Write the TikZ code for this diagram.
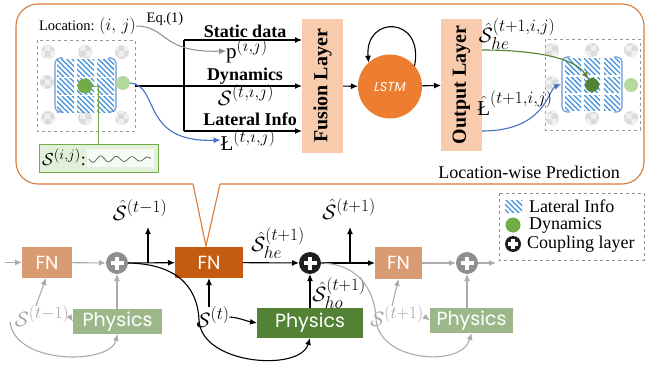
\documentclass[tikz,border=0pt]{standalone}
\usepackage{fontspec}
\setmainfont{Liberation Serif}
\newfontfamily\hand{Poppins}
\usetikzlibrary{arrows.meta,patterns,patterns.meta,calc}
\DeclareMathSizes{21}{21}{16}{12}
\DeclareMathSizes{18}{18}{14}{10}
\DeclareMathSizes{17}{17}{13}{10}
\definecolor{cbord}{HTML}{D97B37}
\definecolor{fusc}{HTML}{F8CBAD}
\definecolor{lstmc}{HTML}{ED7D31}
\definecolor{fnmain}{HTML}{C55A11}
\definecolor{fnfade}{HTML}{D99B72}
\definecolor{phmain}{HTML}{548235}
\definecolor{phfade}{HTML}{9CB88A}
\definecolor{gdyn}{HTML}{70AD47}
\definecolor{gdark}{HTML}{548235}
\definecolor{glight}{HTML}{B5D99C}
\definecolor{gbox}{HTML}{E2F0D9}
\definecolor{bluec}{HTML}{4472C4}
\definecolor{hatchc}{HTML}{3D8FDB}
\definecolor{brackc}{HTML}{6A96D6}
\definecolor{garrc}{HTML}{ABABAB}
\definecolor{cfade}{HTML}{8E8E8E}
\newcommand{\cplus}[2]{%
  \fill[white] ($(path picture bounding box.center)+(-#1,-#2)$) rectangle ($(path picture bounding box.center)+(#1,#2)$);
  \fill[white] ($(path picture bounding box.center)+(-#2,-#1)$) rectangle ($(path picture bounding box.center)+(#2,#1)$);}
\begin{document}
\begin{tikzpicture}[x=1pt,y=-1pt,
  every node/.style={inner sep=0pt, outer sep=0pt},
  lab/.style={font=\fontsize{21}{21}\selectfont},
  blab/.style={font=\fontsize{18}{18}\selectfont\bfseries},
  arr/.style={-{Latex[length=7pt,width=6pt]}, line width=1.1pt},
  garr/.style={arr, draw=garrc},
  gdot/.style={circle, minimum size=14pt, fill=black!14, postaction={pattern=checkerboard, pattern color=black!6}},
  hatch/.style={pattern={Lines[angle=-45,distance=3.7pt,line width=1.25pt]}, pattern color=hatchc},
  layer/.style={fill=fusc, minimum width=41pt, font=\fontsize{20}{20}\selectfont\bfseries},
  blk/.style={fill=#1, text=white, font=\hand\fontsize{19}{19}\selectfont},
  coup/.style={circle, fill=#1, minimum size=22pt, path picture={\cplus{6.5pt}{2.3pt}}},
  coups/.style={circle, fill=#1, minimum size=16pt, path picture={\cplus{4.8pt}{1.8pt}}},
  brk/.style={draw=brackc, line width=1.1pt, rounded corners=5pt}
]
\useasboundingbox (0,0) rectangle (658,369);

% ---------------- callout frame ----------------
\draw[cbord, line width=1.1pt, rounded corners=22pt] (193,184) -- (16,184) -- (16,4) -- (644,4) -- (644,184) -- (220,184);
\draw[cbord, line width=1.1pt] (193,184) -- (206,246) -- (220,184);

% ---------------- left grid ----------------
\draw[black!40, dashed, line width=0.9pt] (37,40) rectangle (135,131);
\foreach \p in {(48,52),(85,52),(122,52),(47,82),(48,118),(85,118),(122,118)}
  \node[gdot] at \p {};
\fill[white] (55,58) rectangle (116,112);
\foreach \x in {57,77,97} \foreach \y in {60,78,96}
  \fill[hatch] (\x,\y) rectangle ++(17,16);
\draw[brk] (63,58) -- (55,58) -- (55,112) -- (63,112);
\draw[brk] (108,58) -- (116,58) -- (116,112) -- (108,112);
\node[circle, minimum size=14pt, fill=glight] (lgl) at (123,83) {};

\node[font=\fontsize{14.5}{14.5}\selectfont, anchor=west] (loc) at (39,26) {Location: {\fontsize{17}{17}\selectfont$(i,\,j)$}};
\node[font=\fontsize{14.5}{14.5}\selectfont] (eq) at (165,19) {Eq.(1)};

% S^(i,j) box
\node[draw=gdyn, fill=gbox, line width=1pt, minimum width=119pt, minimum height=28pt] (sbox) at (98.5,158) {};
\fill[white, opacity=0.75] (87,149) rectangle (154,167);
\node[font=\fontsize{18}{18}\selectfont] (slab) at (64,157) {$\mathcal{S}^{(i,j)}$:};
\draw[black!60, line width=0.8pt] plot[domain=0:62, samples=120, smooth] ({89+\x},{159+3.3*sin(\x*23)*(1-\x/140)});
\coordinate (gdc) at (85,86);
\draw[gdyn, line width=1pt] (gdc) -| (sbox.north);
\node[circle, minimum size=15pt, fill=gdyn] (lgd) at (gdc) {};

% ---------------- input connectors ----------------
\node[layer, minimum height=134pt] (fus) at (322.5,86) {\rotatebox{90}{Fusion Layer}};
\node[layer, minimum height=132pt] (outl) at (461.5,85) {\rotatebox{90}{Output Layer}};
\node[circle, fill=lstmc, minimum size=64pt, text=white, font=\hand\itshape\fontsize{13}{13}\selectfont] (lstm) at (390,86.5) {LSTM};

\coordinate (gr) at (135,86);
\coordinate (jt) at (184,40);
\coordinate (jb) at (184,131);
\draw[line width=1.1pt] (jt) -- (jb);
\draw[arr] (jt) -- (jt -| fus.west);
\draw[arr] (gr) -- (gr -| fus.west);
\draw[arr] (jb) -- (jb -| fus.west);

\node[blab] at (245,31) {Static data};
\node[lab] (pij) at (247,51) {$\mathrm{p}^{(i,j)}$};
\node[blab] at (245,76) {Dynamics};
\node[lab] at (246,95) {$\mathcal{S}^{(t,i,j)}$};
\node[blab] at (250,119) {Lateral Info};
\node[lab] (lij) at (248,140) {\mbox{\L}$^{(t,i,j)}$};

\draw[arr, draw=black!45, line width=1pt] (loc.east) .. controls (168,26) and (160,53) .. (pij.west);
\draw[arr, draw=bluec, line width=1.1pt] (lgl.east) .. controls (160,85) and (140,143) .. (lij.west);

\draw[arr] (fus) -- (lstm);
\draw[arr] (lstm) -- (outl);
\draw[arr] (lstm.40) .. controls +(10,-50) and +(-4,-48) .. (lstm.132);

% ---------------- right grid ----------------
\draw[black!40, dashed, line width=0.9pt] (545,39) rectangle (640,130);
\foreach \p in {(552,50),(592,50),(631,50),(552,83),(552,118),(592,118),(631,118)}
  \node[gdot] at \p {};
\fill[white] (562,57) rectangle (622,112);
\foreach \x in {565,584,604} \foreach \y in {59,77,95}
  \fill[hatch] (\x,\y) rectangle ++(16,15);
\draw[brk] (570,57) -- (562,57) -- (562,112) -- (570,112);
\draw[brk] (614,57) -- (622,57) -- (622,112) -- (614,112);
\node[circle, minimum size=14pt, fill=gdark] (rgd) at (592,85) {};
\node[circle, minimum size=14pt, fill=glight] at (631,85) {};
\coordinate (rbr) at (561,84);

\coordinate (og) at (0,50);
\coordinate (ob) at (0,131);
\draw[arr, draw=gdark] (outl.east |- og) .. controls (535,50) and (575,58) .. (rgd);
\draw[arr, draw=bluec] (outl.east |- ob) .. controls (545,131) and (548,90) .. (rbr);
\node[lab] at (517,34) {$\hat{\mathcal{S}}_{he}^{(t+1,i,j)}$};
\node[lab] at (515,103) {$\hat{\mbox{\L}}^{(t+1,i,j)}$};
\node[font=\fontsize{18}{18}\selectfont] at (529,172) {Location-wise Prediction};

% ---------------- bottom chain ----------------
\node[blk=fnfade, minimum width=50pt, minimum height=31pt] (fnl) at (47,262.5) {FN};
\node[blk=fnmain, minimum width=68pt, minimum height=31pt] (fnm) at (209,262.5) {FN};
\node[blk=fnfade, minimum width=47pt, minimum height=32pt] (fnr) at (398.5,263) {FN};
\node[blk=phfade, minimum width=89pt, minimum height=25pt] (phl) at (117.5,321.5) {Physics};
\node[blk=phmain, minimum width=106pt, minimum height=30pt] (phm) at (310,323) {Physics};
\node[blk=phfade, minimum width=83pt, minimum height=25pt] (phr) at (471.5,320.5) {Physics};
\node[coup=cfade] (c1) at (117,263) {};
\node[coup=black!88] (c2) at (310,263) {};
\node[coup=cfade] (c3) at (467,263) {};

\coordinate (inl) at (5,262.5);
\coordinate (outr) at (496,263);
\draw[garr] (inl) -- (fnl);
\draw[garr] (fnl) -- (c1);
\draw[garr] (c1 |- phl.north) -- (c1);
\draw[arr] (c1) -- (fnm);
\draw[arr] (fnm) -- (c2);
\draw[arr] (c2 |- phm.north) -- (c2);
\draw[arr] (c2) -- (fnr);
\draw[garr] (fnr) -- (c3);
\draw[garr] (c3 |- phr.north) -- (c3);
\draw[garr] (c3) -- (outr);

% outputs
\coordinate (b1) at (148,263); \coordinate (o1) at (148,227);
\coordinate (b2) at (350,263); \coordinate (o2) at (350,227);
\draw[arr] (b1) -- (o1);
\draw[arr] (b2) -- (o2);
\node[lab] at (140,210) {$\hat{\mathcal{S}}^{(t-1)}$};
\node[lab] at (349,209) {$\hat{\mathcal{S}}^{(t+1)}$};
\node[lab] at (278,243) {$\hat{\mathcal{S}}_{he}^{(t+1)}$};
\node[lab] at (339,293) {$\hat{\mathcal{S}}_{ho}^{(t+1)}$};

% states
\node[lab, text=black!35] (stm) at (42,316) {$\mathcal{S}^{(t-1)}$};
\node[lab] (st) at (213,317) {$\mathcal{S}^{(t)}$};
\node[lab, text=black!35] (stp) at (397,316) {$\mathcal{S}^{(t+1)}$};

\draw[garr] ([xshift=-6pt]stm.north) -- ([xshift=-1pt]fnl.south);
\draw[garr] (stm.east) -- (phl.west);
\draw[arr] (fnm.south |- st.north) -- (fnm.south);
\draw[arr] (st.east) to[out=-5,in=170] (phm.west);
\draw[garr] ([xshift=-5pt]stp.north) -- (fnr.south);
\draw[garr] (stp.east) -- (phr.west);

% long curves
\coordinate (gl) at (10,322);
\draw[garr] (gl) .. controls (15,365) and (110,365) .. (phl.south);
\draw[arr] (c1.east) .. controls (185,264) and (198,295) .. (199,320) .. controls (201,365) and (300,372) .. (phm.south);
\draw[garr] (c2.east) .. controls (362,264) and (375,295) .. (376,318) .. controls (377,362) and (462,368) .. (phr.south);

% ---------------- legend ----------------
\draw[black!45, dashed, line width=0.9pt] (499,193) rectangle (644,260);
\fill[hatch] (505,200) rectangle (522,212);
\node[circle, fill=gdyn, minimum size=15pt] (ld) at (513,225) {};
\node[coups=black!88] (lc) at (513,244) {};
\node[font=\fontsize{18}{18}\selectfont, anchor=west] at (529,206) {Lateral Info};
\node[font=\fontsize{18}{18}\selectfont, anchor=west] at (529,225) {Dynamics};
\node[font=\fontsize{18}{18}\selectfont, anchor=west] at (527,244) {Coupling layer};
\end{tikzpicture}
\end{document}
